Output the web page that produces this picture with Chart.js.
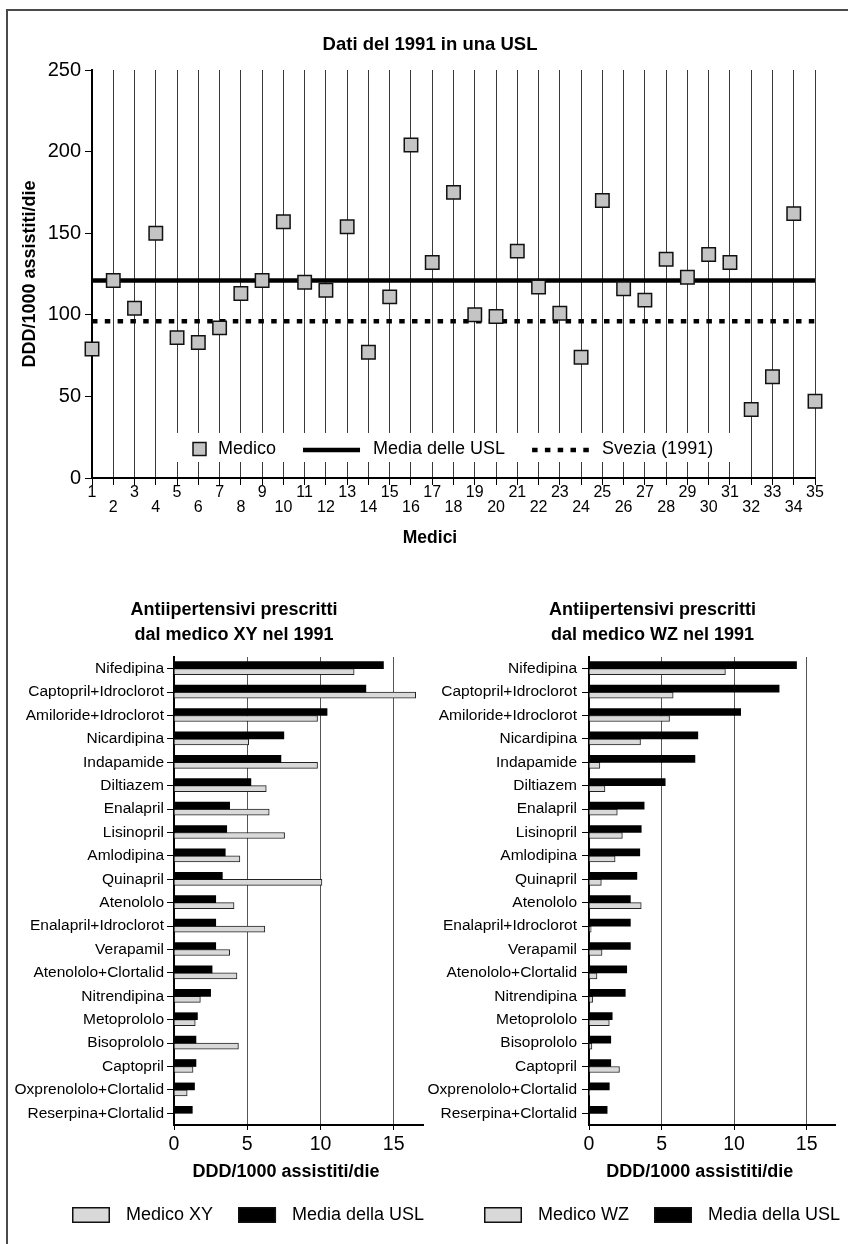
<!DOCTYPE html>
<html>
<head>
<meta charset="utf-8">
<title>Dati del 1991 in una USL</title>
<script src="https://cdn.jsdelivr.net/npm/chart.js@4.4.0/dist/chart.umd.min.js"></script>
<style>
  html, body { margin: 0; padding: 0; background: #fff; }
  body { width: 848px; height: 1244px; position: relative; overflow: hidden; }
  #frame { position: absolute; left: 6px; top: 9px; width: 900px; height: 1300px;
           border-left: 2px solid #4a4a4a; border-top: 2px solid #4a4a4a; }
  canvas { position: absolute; }
  #usl { left: 12px; top: 0; }
  #xy { left: 0; top: 580px; }
  #wz { left: 420px; top: 580px; }
</style>
</head>
<body>
<div id="frame"></div>
<canvas id="usl" width="836" height="560"></canvas>
<canvas id="xy" width="430" height="664"></canvas>
<canvas id="wz" width="428" height="664"></canvas>
<script>
// ---- Dati: DDD/1000 assistiti/die per medico (1991) ----
const medici = [1, 2, 3, 4, 5, 6, 7, 8, 9, 10, 11, 12, 13, 14, 15, 16, 17, 18,
                19, 20, 21, 22, 23, 24, 25, 26, 27, 28, 29, 30, 31, 32, 33, 34, 35];
const dddMedico = [79, 121, 104, 150, 86, 83, 92, 113, 121, 157, 120, 115, 154, 77, 111, 204, 132, 175,
                   100, 99, 139, 117, 101, 74, 170, 116, 109, 134, 123, 137, 132, 42, 62, 162, 47];
const mediaUSL = 121;
const svezia1991 = 96;

// ---- Antiipertensivi prescritti (DDD/1000 assistiti/die) ----
const farmaci = ['Nifedipina', 'Captopril+Idroclorot', 'Amiloride+Idroclorot', 'Nicardipina',
  'Indapamide', 'Diltiazem', 'Enalapril', 'Lisinopril', 'Amlodipina', 'Quinapril', 'Atenololo',
  'Enalapril+Idroclorot', 'Verapamil', 'Atenololo+Clortalid', 'Nitrendipina', 'Metoprololo',
  'Bisoprololo', 'Captopril', 'Oxprenololo+Clortalid', 'Reserpina+Clortalid'];
const mediaUSLFarmaci = [14.3, 13.1, 10.45, 7.5, 7.3, 5.25, 3.8, 3.6, 3.5, 3.3, 2.85,
                         2.85, 2.85, 2.6, 2.5, 1.6, 1.5, 1.5, 1.4, 1.25];
const medicoXY = [12.3, 16.5, 9.8, 5.1, 9.8, 6.3, 6.5, 7.55, 4.5, 10.1, 4.1,
                  6.2, 3.8, 4.3, 1.8, 1.45, 4.4, 1.3, 0.9, 0];
const medicoWZ = [9.4, 5.8, 5.55, 3.55, 0.75, 1.1, 1.95, 2.3, 1.8, 0.85, 3.6,
                  0.15, 0.9, 0.55, 0.25, 1.4, 0.2, 2.1, 0.05, 0];

const FONT = "'Liberation Sans', Arial, sans-serif";
Chart.defaults.font.family = FONT;
Chart.defaults.color = '#000';

// Free-standing captions (titles centred on the page rather than on the axis)
const captionPlugin = {
  id: 'caption',
  afterDraw(chart, args, opts) {
    const ctx = chart.ctx;
    (opts.items || []).forEach(it => {
      ctx.save();
      ctx.font = it.font;
      ctx.fillStyle = '#000';
      ctx.textAlign = 'center';
      ctx.textBaseline = 'middle';
      ctx.fillText(it.text, it.x, it.y);
      ctx.restore();
    });
  }
};

// Legend boxed inside the plot area of the scatter chart
const insetLegend = {
  id: 'insetLegend',
  beforeDatasetsDraw(chart, args, o) {
    const ctx = chart.ctx;
    ctx.save();
    ctx.fillStyle = '#fff';
    ctx.fillRect(o.left, o.top, o.width, o.height);
    ctx.font = `18px ${FONT}`;
    ctx.textBaseline = 'middle';
    ctx.textAlign = 'left';
    let x = o.start;
    const y = o.y;
    chart.data.datasets.forEach(ds => {
      if (ds.pointStyle === 'rect') {
        ctx.fillStyle = ds.backgroundColor;
        ctx.fillRect(x, y - 6.5, 13, 13);
        ctx.lineWidth = 1.5;
        ctx.strokeStyle = ds.borderColor;
        ctx.strokeRect(x, y - 6.5, 13, 13);
        x += 13 + 12;
      } else {
        ctx.strokeStyle = ds.borderColor;
        ctx.lineWidth = ds.borderWidth;
        ctx.setLineDash(ds.borderDash || []);
        ctx.beginPath();
        ctx.moveTo(x, y + 1);
        ctx.lineTo(x + 57, y + 1);
        ctx.stroke();
        ctx.setLineDash([]);
        x += 57 + 13;
      }
      ctx.fillStyle = '#000';
      ctx.fillText(ds.label, x, y);
      x += ctx.measureText(ds.label).width + 27;
    });
    ctx.restore();
  }
};

// Swatch legend under the bar charts
const swatchLegend = {
  id: 'swatchLegend',
  afterDraw(chart, args, o) {
    const ctx = chart.ctx;
    ctx.save();
    ctx.font = `18px ${FONT}`;
    ctx.textBaseline = 'middle';
    ctx.textAlign = 'left';
    let x = o.x;
    const y = o.y;
    o.order.forEach(i => {
      const ds = chart.data.datasets[i];
      ctx.fillStyle = ds.backgroundColor;
      ctx.fillRect(x, y - 8, 38, 16);
      ctx.lineWidth = 1.5;
      ctx.strokeStyle = '#111';
      ctx.strokeRect(x + 0.75, y - 7.25, 36.5, 14.5);
      x += 38 + 16;
      ctx.fillStyle = '#000';
      ctx.fillText(ds.label, x, y);
      x += ctx.measureText(ds.label).width + 25;
    });
    ctx.restore();
  }
};

// ---- Dati del 1991 in una USL ----
new Chart(document.getElementById('usl'), {
  type: 'scatter',
  data: {
    datasets: [
      { label: 'Medico', data: medici.map((m, i) => ({ x: m, y: dddMedico[i] })),
        pointStyle: 'rect', pointRadius: 9.5, backgroundColor: '#c4c4c4',
        borderColor: '#111', borderWidth: 1.5, clip: false, showLine: false },
      { type: 'line', label: 'Media delle USL', data: medici.map(m => ({ x: m, y: mediaUSL })),
        borderColor: '#000', borderWidth: 4.5, pointRadius: 0, fill: false },
      { type: 'line', label: 'Svezia (1991)', data: medici.map(m => ({ x: m, y: svezia1991 })),
        borderColor: '#000', borderWidth: 4.5, borderDash: [5.5, 7.3], borderCapStyle: 'butt',
        pointRadius: 0, fill: false }
    ]
  },
  options: {
    responsive: false, animation: false, events: [],
    layout: { padding: { left: 0, right: 33, top: 70, bottom: 0 } },
    plugins: {
      legend: { display: false }, tooltip: { enabled: false },
      caption: { items: [
        { text: 'Dati del 1991 in una USL', font: `bold 18.5px ${FONT}`, x: 418, y: 45 },
        { text: 'Medici', font: `bold 17.5px ${FONT}`, x: 418, y: 538 }
      ] },
      insetLegend: { left: 160, top: 433, width: 568, height: 29, start: 181, y: 449 }
    },
    scales: {
      x: {
        type: 'linear', min: 1, max: 35, position: 'bottom',
        ticks: { stepSize: 1, autoSkip: false, maxRotation: 0, padding: 0, color: '#000',
                 font: { size: 16, lineHeight: '15px' },
                 callback: v => (v % 2 === 0 ? ['', String(v)] : String(v)) },
        grid: { color: '#3a3a3a', lineWidth: 1, tickLength: 7, tickColor: '#000' },
        border: { color: '#000', width: 2 },
        afterFit: s => { s.height = 82; }
      },
      y: {
        min: 0, max: 250,
        ticks: { stepSize: 50, padding: 4, color: '#000', font: { size: 20 } },
        grid: { drawOnChartArea: false, tickLength: 7, color: '#000' },
        border: { color: '#000', width: 2 },
        title: { display: true, text: 'DDD/1000 assistiti/die', color: '#000',
                 font: { size: 18, weight: 'bold' }, padding: { top: 7, bottom: 0 } },
        afterFit: s => { s.width = 80; }
      }
    }
  },
  plugins: [captionPlugin, insetLegend]
});

// ---- Antiipertensivi prescritti dal medico ... nel 1991 ----
function drugChart(id, medico, medicoData, g) {
  const bold = `bold 18px ${FONT}`;
  new Chart(document.getElementById(id), {
    type: 'bar',
    data: {
      labels: farmaci,
      datasets: [
        { label: 'Media della USL', data: mediaUSLFarmaci, backgroundColor: '#000',
          borderWidth: 0, barThickness: 7 },
        { label: 'Medico ' + medico, data: medicoData, backgroundColor: '#d9d9d9',
          borderColor: '#222', borderWidth: 1, barThickness: 6 }
      ]
    },
    options: {
      indexAxis: 'y', responsive: false, animation: false, events: [],
      layout: { padding: { left: 0, right: g.padR, top: 77, bottom: 0 } },
      plugins: {
        legend: { display: false }, tooltip: { enabled: false },
        caption: { items: [
          { text: 'Antiipertensivi prescritti', font: bold, x: g.headX, y: 30 },
          { text: 'dal medico ' + medico + ' nel 1991', font: bold, x: g.headX, y: 55 },
          { text: 'DDD/1000 assistiti/die', font: bold, x: g.titleX, y: 592 }
        ] },
        swatchLegend: { x: g.legendX, y: 635, order: [1, 0] }
      },
      scales: {
        x: {
          min: 0, max: 17,
          ticks: { stepSize: 5, includeBounds: false, padding: 3.3, color: '#000', font: { size: 19.5 } },
          grid: { color: '#555', tickLength: 5, tickColor: '#000' },
          border: { color: '#000', width: 2 },
          afterFit: s => { s.height = 119; }
        },
        y: {
          ticks: { autoSkip: false, padding: g.labelPad, color: '#000', font: { size: 15.5 } },
          grid: { offset: false, drawOnChartArea: false, tickLength: 7, color: '#000' },
          border: { color: '#000', width: 2 },
          afterFit: s => { s.width = g.axisW; }
        }
      }
    },
    plugins: [captionPlugin, swatchLegend]
  });
}

drugChart('xy', 'XY', medicoXY, { padR: 7, axisW: 174, labelPad: 3, headX: 234, titleX: 286, legendX: 72 });
drugChart('wz', 'WZ', medicoWZ, { padR: 12.3, axisW: 169, labelPad: 5, headX: 232.5, titleX: 279.7, legendX: 64 });
</script>
</body>
</html>
